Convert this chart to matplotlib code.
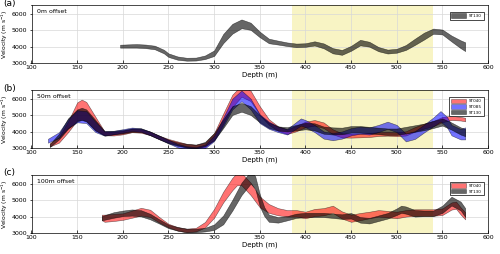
import numpy as np
import matplotlib
matplotlib.use("Agg")
import matplotlib.pyplot as plt

# depth range shaded in yellow
zone = (385, 540)

# panel (a): ST130, 0 m offset
a130_d = [197, 205, 215, 225, 235, 245, 250, 260, 270, 280, 290, 300, 310, 320, 330, 340, 350, 360, 370,
          380, 390, 400, 410, 420, 430, 440, 450, 460, 470, 480, 490, 500, 510, 520, 530, 540, 550, 560, 570, 575]
a130_v = [4030, 4040, 4050, 4020, 3950, 3700, 3480, 3300, 3230, 3240, 3350, 3600, 4500, 5100, 5400, 5250, 4750,
          4350, 4250, 4150, 4080, 4100, 4200, 4050, 3750, 3650, 3900, 4250, 4150, 3850, 3700, 3750, 3950, 4300,
          4650, 4950, 4900, 4500, 4150, 4000]
a130_w = [90, 100, 110, 110, 110, 110, 110, 100, 90, 90, 110, 170, 280, 300, 270, 220, 170, 140, 120,
          110, 110, 110, 130, 150, 160, 150, 150, 170, 150, 130, 120, 120, 150, 190, 210, 160, 150, 180, 240, 270]

# panel (b): 50 m offset
b040_d = [120, 130, 140, 150, 155, 160, 170, 180, 190, 200, 210, 220, 230, 240, 250, 260, 270, 280, 290, 300,
          310, 320, 330, 340, 350, 360, 370, 380, 390, 400, 410, 420, 430, 440, 450, 460, 470, 480, 490, 500,
          510, 520, 530, 540, 550, 560, 570, 575]
b040_v = [3200, 3500, 4300, 5250, 5350, 5250, 4500, 3900, 3880, 3950, 4080, 4050, 3900, 3650, 3450, 3300, 3150,
          3100, 3200, 3700, 4800, 5900, 6500, 6200, 5300, 4600, 4200, 4000, 4200, 4450, 4550, 4400, 4000, 3780,
          3760, 3780, 3800, 3860, 3880, 3850, 3900, 4150, 4350, 4500, 4750, 4850, 4800, 4750]
b040_w = [100, 170, 330, 550, 620, 580, 420, 120, 110, 110, 110, 110, 110, 110, 110, 110, 110, 110, 130, 220,
          320, 380, 350, 320, 270, 170, 140, 140, 170, 170, 170, 170, 150, 130, 120, 120, 120, 120, 120, 120,
          130, 140, 150, 160, 160, 130, 110, 110]

b085_d = [118, 130, 140, 150, 160, 170, 180, 190, 200, 210, 220, 230, 240, 250, 260, 270, 280, 290, 300, 310,
          320, 330, 340, 350, 360, 370, 380, 395, 400, 410, 420, 430, 440, 450, 460, 470, 480, 490, 500, 510,
          520, 530, 540, 548, 555, 560, 570, 575]
b085_v = [3450, 3800, 4500, 4950, 4900, 4300, 3900, 3950, 4050, 4150, 4100, 3900, 3650, 3400, 3150, 3000, 2950,
          3100, 3600, 4600, 5700, 6200, 5700, 4800, 4400, 4150, 4000, 4600, 4500, 4200, 3800, 3700, 3800, 4000,
          4100, 4050, 4200, 4400, 4200, 3650, 3800, 4200, 4600, 4950, 4600, 4100, 3850, 3900]
b085_w = [120, 170, 270, 370, 370, 320, 140, 110, 110, 110, 110, 110, 110, 110, 110, 110, 110, 110, 170, 270,
          330, 330, 330, 270, 220, 170, 170, 220, 220, 220, 220, 220, 220, 220, 220, 220, 220, 220, 220, 240,
          240, 240, 270, 320, 320, 320, 320, 370]

b130_d = [120, 130, 140, 150, 155, 160, 170, 180, 190, 200, 210, 220, 230, 240, 250, 260, 270, 280, 290, 300,
          310, 320, 330, 340, 350, 360, 370, 380, 390, 400, 410, 420, 430, 440, 450, 460, 470, 480, 490, 500,
          510, 520, 530, 540, 550, 560, 570, 575]
b130_v = [3150, 3700, 4500, 5000, 5100, 5000, 4400, 3900, 3950, 4000, 4100, 4100, 3900, 3650, 3400, 3250, 3150,
          3100, 3250, 3700, 4500, 5300, 5500, 5300, 4800, 4400, 4200, 4150, 4250, 4350, 4300, 4100, 4050, 4050,
          4150, 4150, 4100, 4050, 4000, 4000, 4100, 4200, 4300, 4450, 4600, 4350, 4050, 3950]
b130_w = [90, 170, 320, 370, 370, 370, 320, 130, 110, 110, 110, 110, 110, 110, 110, 110, 110, 110, 130, 220,
          270, 270, 270, 270, 220, 170, 130, 130, 170, 200, 220, 220, 220, 200, 200, 200, 200, 200, 200, 200,
          200, 200, 200, 220, 220, 220, 220, 220]

# panel (c): 100 m offset
c040_d = [177, 180, 190, 200, 210, 220, 230, 240, 250, 260, 270, 280, 290, 300, 310, 320, 325, 330, 340, 350,
          360, 370, 380, 390, 400, 410, 420, 430, 440, 450, 460, 470, 480, 490, 500, 510, 520, 530, 540, 550,
          560, 565, 570, 575]
c040_v = [3950, 3900, 3950, 4000, 4150, 4300, 4200, 3800, 3450, 3250, 3150, 3200, 3500, 4200, 5200, 6000, 6300,
          6300, 5700, 4900, 4500, 4300, 4200, 4200, 4100, 4250, 4300, 4450, 4100, 3900, 4000, 4100, 4200, 4150,
          4100, 4200, 4250, 4250, 4250, 4300, 4650, 4700, 4350, 4050]
c040_w = [170, 220, 220, 200, 220, 240, 220, 170, 110, 110, 110, 110, 170, 270, 330, 380, 380, 380, 380, 330,
          270, 220, 200, 200, 200, 220, 220, 220, 220, 220, 220, 200, 200, 200, 200, 200, 200, 200, 200, 200,
          220, 220, 220, 220]

c130_d = [177, 190, 200, 210, 220, 230, 240, 250, 260, 270, 280, 290, 300, 310, 320, 330, 340, 345, 350, 355,
          360, 370, 380, 390, 400, 410, 420, 430, 440, 450, 460, 470, 480, 490, 500, 505, 510, 520, 530, 540,
          550, 560, 570, 575]
c130_v = [3900, 4100, 4200, 4250, 4200, 4000, 3700, 3400, 3250, 3150, 3150, 3200, 3350, 3800, 4700, 5700, 6400,
          6100, 5000, 4300, 3900, 3800, 3900, 4050, 4100, 4100, 4100, 4050, 4000, 4050, 3800, 3750, 3900, 4050,
          4300, 4450, 4400, 4200, 4200, 4200, 4450, 4950, 4650, 4250]
c130_w = [130, 170, 170, 190, 190, 170, 130, 110, 110, 110, 110, 110, 170, 270, 330, 380, 380, 380, 380, 270,
          220, 170, 130, 130, 130, 130, 130, 130, 140, 170, 170, 170, 170, 170, 200, 220, 220, 200, 170, 170,
          220, 270, 270, 270]

colors = {"ST040": "#ff0000", "ST085": "#0000ff", "ST130": "#000000"}
alphas = {"ST040": 0.55, "ST085": 0.55, "ST130": 0.6}


def draw_band(ax, depth, vel, half, name):
    depth, vel, half = np.array(depth), np.array(vel), np.array(half)
    ax.fill_between(depth, vel - half, vel + half, facecolor=colors[name], alpha=alphas[name],
                    edgecolor="k", linewidth=0.4, label=name)


panels = [
    ("(a)", "0m offset", [(a130_d, a130_v, a130_w, "ST130")]),
    ("(b)", "50m offset", [(b040_d, b040_v, b040_w, "ST040"), (b085_d, b085_v, b085_w, "ST085"),
                           (b130_d, b130_v, b130_w, "ST130")]),
    ("(c)", "100m offset", [(c040_d, c040_v, c040_w, "ST040"), (c130_d, c130_v, c130_w, "ST130")]),
]

fig = plt.figure(figsize=(5.0, 2.54), dpi=100)
bottoms = [0.752, 0.417, 0.083]

for (tag, offset, bands), bot in zip(panels, bottoms):
    ax = fig.add_axes([0.063, bot, 0.913, 0.228])
    ax.axvspan(*zone, color="#f8f4c4", zorder=0, linewidth=0)
    for d, v, w, name in bands:
        draw_band(ax, d, v, w, name)
    ax.set_xlim(100, 600)
    ax.set_ylim(3000, 6550)
    ax.set_xticks(np.arange(100, 601, 50))
    ax.set_yticks([3000, 4000, 5000, 6000])
    ax.grid(True, color="#d8d8d8", linewidth=0.5)
    ax.set_axisbelow(True)
    ax.tick_params(axis="x", direction="in", length=2.5)
    ax.tick_params(axis="y", direction="out", length=1.5)
    ax.tick_params(labelsize=4.5, width=0.5, pad=1.5)
    for s in ax.spines.values():
        s.set_linewidth(0.5)
    ax.set_ylabel("Velocity (m s$^{-1}$)", fontsize=4.3, labelpad=1)
    ax.set_xlabel("Depth (m)", fontsize=5, labelpad=1)
    ax.text(0.012, 0.93, offset, transform=ax.transAxes, fontsize=4.5, va="top")
    fig.text(0.006, bot + 0.236, tag, fontsize=6.5, va="center")
    leg = ax.legend(loc="upper right", fontsize=3, handlelength=3.5, handleheight=1.2, borderpad=0.4,
                    labelspacing=0.3, fancybox=False, edgecolor="k", framealpha=1, bbox_to_anchor=(0.995, 0.92))
    leg.get_frame().set_linewidth(0.5)

fig.savefig("out.png", dpi=100)
